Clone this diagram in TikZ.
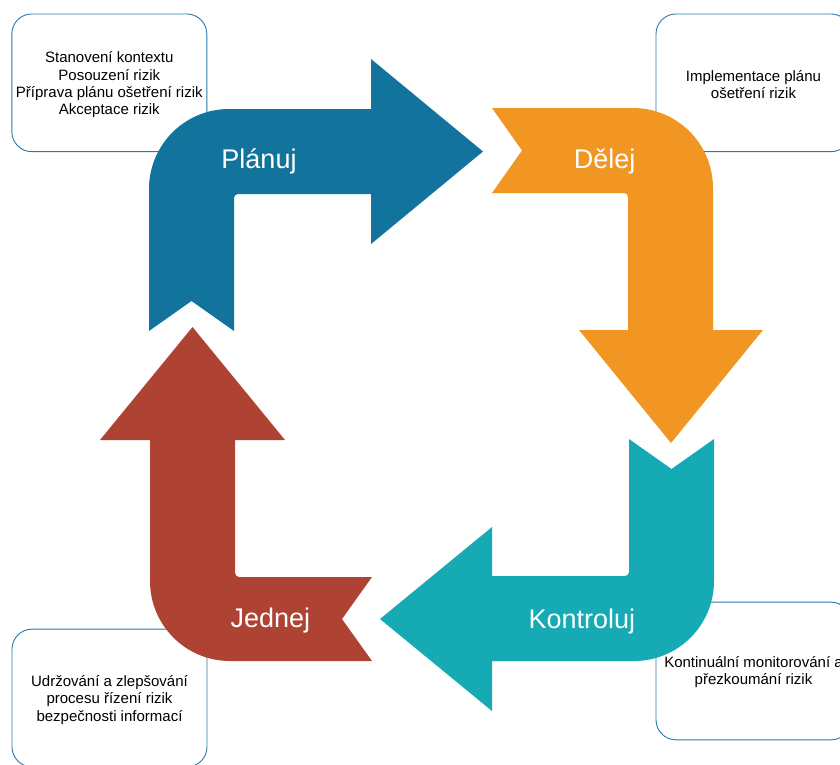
\documentclass[tikz,border=0pt]{standalone}
\usepackage{fontspec}
\setmainfont{Liberation Sans}
\definecolor{cblue}{RGB}{18,115,157}
\definecolor{corange}{RGB}{241,150,34}
\definecolor{cteal}{RGB}{22,170,181}
\definecolor{cred}{RGB}{174,67,52}
\definecolor{cborder}{RGB}{40,122,172}
\begin{document}
\begin{tikzpicture}[x=1pt,y=-1pt,
  infobox/.style={draw=cborder, line width=0.9pt, rounded corners=20pt, fill=white,
    minimum width=195pt, minimum height=137.7pt, inner sep=0pt},
  boxtext/.style={align=center, inner sep=0pt, font=\fontsize{15}{17.2}\selectfont},
  steplabel/.style={text=white, anchor=base, inner sep=0pt, font=\fontsize{27}{30}\selectfont}]
\useasboundingbox (0,0) rectangle (840,764);
\clip (0,0) rectangle (840,764);
\fill[white] (0,0) rectangle (840,764);
% info boxes
\node[infobox] (bplan) at (109.3,82.8) {};
\node[infobox] (bdo) at (753.5,82.8) {};
\node[infobox] (bact) at (109.5,698) {};
\node[infobox] (bcheck) at (753.5,671) {};
\node[boxtext] (tplan) at ([yshift=-2pt]bplan.center) {Stanovení kontextu\\Posouzení rizik\\Příprava plánu ošetření rizik\\Akceptace rizik};
\node[boxtext] (tdo) at ([yshift=-2pt]bdo.center) {Implementace plánu\\ošetření rizik};
\node[boxtext] (tact) at ([yshift=-2pt]bact.center) {Udržování a zlepšování\\procesu řízení rizik\\bezpečnosti informací};
\node[boxtext] (tcheck) at ([yshift=-1pt]bcheck.center) {Kontinuální monitorování a\\přezkoumání rizik};
% blue arrow
\fill[cblue] (149,331) -- (149,189) .. controls (149,144.8) and (184.8,109) .. (229,109)
  -- (371,109) -- (371,59) -- (483,151.5) -- (371,244) -- (371,194) -- (238,194)
  .. controls (235.8,194) and (234,195.8) .. (234,198) -- (234,331) -- (191.5,301) -- cycle;
% orange arrow
\fill[corange] (492,108) -- (633,108) .. controls (677.2,108) and (713,143.8) .. (713,188)
  -- (713,330) -- (763,330) -- (671,443) -- (579,330) -- (628,330) -- (628,197)
  .. controls (628,194.8) and (626.2,193) .. (624,193) -- (492,193) -- (522,150.5) -- cycle;
% teal arrow
\fill[cteal] (714,439) -- (714,581) .. controls (714,625.2) and (678.2,661) .. (634,661)
  -- (492,661) -- (492,711) -- (380,619) -- (492,527) -- (492,576) -- (625,576)
  .. controls (627.2,576) and (629,574.2) .. (629,572) -- (629,439) -- (671.5,469) -- cycle;
% red arrow
\fill[cred] (372,661) -- (230,661) .. controls (185.8,661) and (150,625.2) .. (150,581)
  -- (150,440) -- (100,440) -- (192.5,327) -- (285,440) -- (235,440) -- (235,573)
  .. controls (235,575.2) and (236.8,577) .. (239,577) -- (372,577) -- (342,619) -- cycle;
% labels
\node[steplabel] (lplan) at (259,168.3) {Plánuj};
\node[steplabel] (ldo) at (604.7,168.3) {Dělej};
\node[steplabel] (lcheck) at (581.8,628.3) {Kontroluj};
\node[steplabel] (lact) at (270.3,627.3) {Jednej};
\end{tikzpicture}
\end{document}
